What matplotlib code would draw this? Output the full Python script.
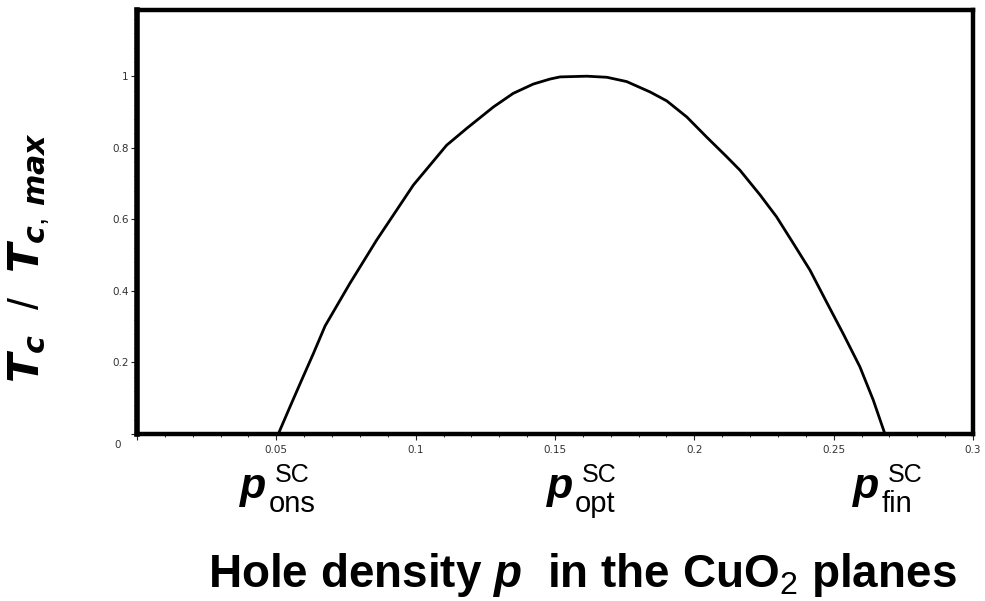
import matplotlib
matplotlib.use("Agg")
import matplotlib.pyplot as plt
from matplotlib import font_manager

# точки кривой Tc/Tc,max
p_vals = [0.0507, 0.0549, 0.0591, 0.0633, 0.0675, 0.0764, 0.0860, 0.0908,
          0.0956, 0.0992, 0.1051, 0.1111, 0.1183, 0.1279, 0.1350, 0.1422,
          0.1482, 0.1518, 0.1614, 0.1686, 0.1757, 0.1841, 0.1901, 0.1973,
          0.2044, 0.2116, 0.2164, 0.2236, 0.2295, 0.2355, 0.2415, 0.2475,
          0.2535, 0.2594, 0.2642, 0.2684]
tc_vals = [0.0, 0.076, 0.151, 0.225, 0.302, 0.421, 0.542, 0.598,
           0.654, 0.696, 0.751, 0.807, 0.854, 0.914, 0.952, 0.978,
           0.992, 0.998, 1.0, 0.997, 0.985, 0.956, 0.931, 0.886,
           0.830, 0.775, 0.737, 0.668, 0.607, 0.533, 0.458, 0.368,
           0.279, 0.188, 0.095, 0.0]

x_ticks = [0, 0.05, 0.1, 0.15, 0.2, 0.25, 0.3]
x_labels = ["", "0.05", "0.1", "0.15", "0.2", "0.25", "0.3"]
y_ticks = [0, 0.2, 0.4, 0.6, 0.8, 1.0]
y_labels = ["", "0.2", "0.4", "0.6", "0.8", "1"]

mark_pos = [0.05, 0.16, 0.27]
mark_subs = ["ons", "opt", "fin"]

names = {f.name for f in font_manager.fontManager.ttflist}
if "Liberation Sans Narrow" in names:
    title_font, title_size = "Liberation Sans Narrow", 38
else:
    title_font, title_size = "Liberation Sans", 33

plt.rcParams["mathtext.fontset"] = "custom"
plt.rcParams["mathtext.it"] = "DejaVu Sans:italic:bold"      # для подписи оси Y
plt.rcParams["mathtext.rm"] = "Liberation Sans"
plt.rcParams["mathtext.bf"] = "Liberation Sans:italic:bold"  # для p в заголовке

fig = plt.figure(figsize=(9.85, 6.01), dpi=100)
ax = fig.add_axes([137 / 985, 167 / 601, 836 / 985, 424 / 601])

ax.plot(p_vals, tc_vals, color="black", lw=2.0)

ax.set_xlim(0, 0.3)
ax.set_ylim(0, 1.185)
for s in ax.spines.values():
    s.set_linewidth(3.2)
ax.spines["left"].set_linewidth(4.0)

ax.set_xticks(x_ticks)
ax.set_xticklabels(x_labels)
ax.set_yticks(y_ticks)
ax.set_yticklabels(y_labels)
ax.set_xticks([i / 100 for i in range(31)], minor=True)
ax.set_yticks([i * 0.04 for i in range(30)], minor=True)
ax.tick_params(which="major", direction="out", length=4, width=0.8, labelsize=7.5,
               labelcolor="#333333", color="#222222")
ax.tick_params(which="minor", direction="out", length=2.5, width=0.7, color="#222222")
ax.tick_params(axis="x", pad=4)
ax.tick_params(axis="y", pad=2)

# ноль в углу, чуть ниже оси
ax.annotate("0", xy=(0, 0), xytext=(-14, -8), textcoords="offset points",
            ha="center", va="center", fontsize=7.5, color="#333333", annotation_clip=False)

# подписи p^SC под осью
for pos, sub in zip(mark_pos, mark_subs):
    ax.annotate("p", xy=(pos, 0), xytext=(-7, -46), textcoords="offset points",
                ha="right", va="baseline", fontsize=31, fontweight="bold",
                fontstyle="italic", family="Liberation Sans", annotation_clip=False)
    ax.annotate("SC", xy=(pos, 0), xytext=(-1, -34.5), textcoords="offset points",
                ha="left", va="baseline", fontsize=18, family="Liberation Sans",
                annotation_clip=False)
    ax.annotate(sub, xy=(pos, 0), xytext=(-5.5, -56), textcoords="offset points",
                ha="left", va="baseline", fontsize=21, family="Liberation Sans",
                annotation_clip=False)

fig.text(29 / 985, 1 - 258 / 601, r"$T_{c}\;\;/\;\;T_{c,\,max}$",
         rotation=90, ha="center", va="center", fontsize=31)

fig.text(582 / 985, 14 / 601, r"Hole density $\mathbf{p}$  in the CuO$_2$ planes",
         ha="center", va="baseline", fontsize=title_size, fontweight="bold",
         family=title_font)

fig.savefig("out.png", dpi=100)
plt.close(fig)
